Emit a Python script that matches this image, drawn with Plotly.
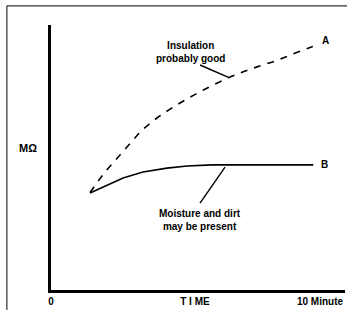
import plotly.graph_objects as go

# Curve A (insulation probably good) - dashed
a_x = [1.45, 2.01, 2.45, 2.94, 3.38, 3.94, 4.50, 5.09, 5.65, 6.36, 7.03, 7.66, 8.33, 8.96, 9.63, 9.9]
a_y = [36.8, 44.5, 49.6, 55.3, 60.2, 64.9, 68.7, 72.3, 75.4, 79.0, 81.9, 84.2, 86.4, 88.9, 91.5, 92.5]

# Curve B (moisture and dirt) - solid
b_x = [1.45, 2.08, 2.68, 3.42, 4.31, 5.06, 5.99, 9.75]
b_y = [36.6, 39.6, 42.3, 44.5, 46.0, 46.8, 47.2, 47.2]

# pointer lines for annotations
ptr_a_x = [5.54, 6.6]
ptr_a_y = [84.9, 80.2]
ptr_b_x = [5.54, 6.47]
ptr_b_y = [32.8, 46.4]

tick_vals = [0, 5.35, 10]
tick_text = ["<b>0</b>", "<b>T I ME</b>", "<b>10 Minute</b>"]

FONT = "Liberation Sans"

fig = go.Figure()
fig.add_trace(go.Scatter(x=a_x, y=a_y, mode="lines", line_shape="spline",
                         line=dict(color="black", width=1.6, dash="7px,7px")))
fig.add_trace(go.Scatter(x=b_x, y=b_y, mode="lines",
                         line=dict(color="black", width=1.6)))
fig.add_trace(go.Scatter(x=ptr_a_x, y=ptr_a_y, mode="lines",
                         line=dict(color="black", width=1.4)))
fig.add_trace(go.Scatter(x=ptr_b_x, y=ptr_b_y, mode="lines",
                         line=dict(color="black", width=1.4)))

ann_font = dict(family=FONT, size=10, color="black")
fig.add_annotation(x=10.2, y=94, text="<b>A</b>", showarrow=False, font=ann_font, xanchor="center")
fig.add_annotation(x=9.95, y=47.2, text="<b>B</b>", showarrow=False, font=ann_font, xanchor="left")
fig.add_annotation(x=5.17, y=89.8, text="<b>Insulation<br>probably good</b>", showarrow=False,
                   font=ann_font, align="center")
fig.add_annotation(x=5.54, y=26.5, text="<b>Moisture and dirt<br>may be present</b>", showarrow=False,
                   font=ann_font, align="center")
fig.add_annotation(xref="paper", x=-0.078, y=53.6, text="<b>MΩ</b>", showarrow=False,
                   font=dict(family=FONT, size=11, color="black"), xanchor="center")

# outer frame (top and left)
fig.add_shape(type="line", xref="paper", yref="paper", x0=-0.150, x1=1.01, y0=1.072, y1=1.072,
              line=dict(color="black", width=1))
fig.add_shape(type="line", xref="paper", yref="paper", x0=-0.150, x1=-0.150, y0=1.072, y1=-0.075,
              line=dict(color="black", width=1))

fig.update_layout(
    width=347, height=318,
    margin=dict(l=51, r=2, t=25, b=28),
    showlegend=False,
    plot_bgcolor="white", paper_bgcolor="white",
    xaxis=dict(range=[0, 10.93], showgrid=False, zeroline=False, showline=True,
               linecolor="black", linewidth=3, tickvals=tick_vals, ticktext=tick_text,
               ticks="", tickfont=dict(family=FONT, size=10, color="black"), fixedrange=True),
    yaxis=dict(range=[0, 100], showgrid=False, zeroline=False, showline=True,
               linecolor="black", linewidth=3, showticklabels=False, ticks="", fixedrange=True),
)

fig.write_html("out.html", config={"displayModeBar": False},
               post_script="document.body.style.margin='0px';")
